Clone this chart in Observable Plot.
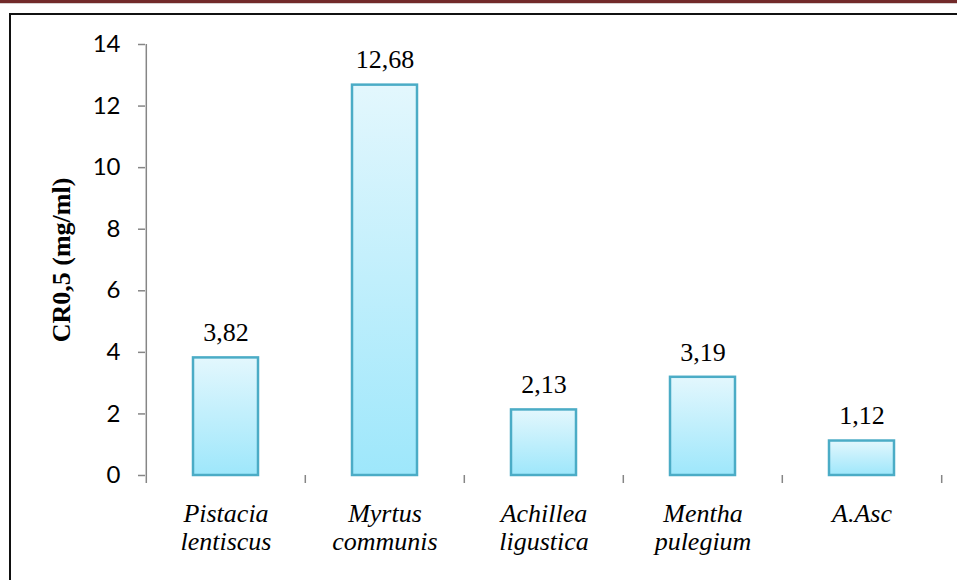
<!DOCTYPE html>
<html>
<head>
<meta charset="utf-8">
<script src="https://cdn.jsdelivr.net/npm/d3@7"></script>
<script src="https://cdn.jsdelivr.net/npm/@observablehq/plot@0.6"></script>
<style>
  html, body { margin: 0; padding: 0; background: #fff; }
  #wrap { position: relative; width: 957px; height: 580px; overflow: hidden; }
  #band { position: absolute; left: 0; top: 0; width: 957px; height: 3px; background: #722a2a; border-bottom: 1px solid #d8d0d0; }
  #box { position: absolute; left: 9px; top: 13px; width: 1000px; height: 700px; border: 2px solid #111; box-sizing: border-box; }
  #chart { position: absolute; left: 0; top: 0; }
</style>
</head>
<body>
<div id="wrap">
  <div id="band"></div>
  <div id="box"></div>
  <div id="chart"></div>
</div>
<script>
const categories = ["Pistacia\nlentiscus", "Myrtus\ncommunis", "Achillea\nligustica", "Mentha\npulegium", "A.Asc"];
const values = [3.82, 12.68, 2.13, 3.19, 1.12];
const yTicks = [0, 2, 4, 6, 8, 10, 12, 14];
const yLabel = "CR0,5 (mg/ml)";

const data = categories.map((c, i) => ({category: c, value: values[i]}));

const W = 957, H = 580;
const mL = 145, mR = 15, mT = 44, mB = 105;
const step = (W - mL - mR) / categories.length;
const serif = "'Liberation Serif', 'Times New Roman', serif";
const axisColor = "#868686";

const plot = Plot.plot({
  width: W,
  height: H,
  marginLeft: mL,
  marginRight: mR,
  marginTop: mT,
  marginBottom: mB,
  style: {background: "transparent", overflow: "visible"},
  x: {domain: categories, paddingInner: 0.59, paddingOuter: 0.295, axis: null},
  y: {domain: [0, 14], axis: null},
  marks: [
    // y axis line
    Plot.ruleX([0], {x: () => categories[0], dx: -step / 2, y1: 0, y2: 14, stroke: axisColor, strokeWidth: 1.5}),
    Plot.axisY({ticks: yTicks, tickSize: 7, tickPadding: 18, stroke: axisColor, strokeWidth: 1.5, color: "#000",
      fontSize: 24, fontFamily: "Lato, 'Open Sans', sans-serif", label: null}),
    // x axis category boundary ticks
    Plot.axisX({ticks: categories, tickSize: 8, tickFormat: () => "", dx: -step / 2, stroke: axisColor, strokeWidth: 1.5, label: null}),
    Plot.axisX({ticks: [categories[categories.length - 1]], tickSize: 8, tickFormat: () => "", dx: step / 2, stroke: axisColor, strokeWidth: 1.5, label: null}),
    Plot.barY(data, {x: "category", y: "value", fill: "url(#barGrad)", stroke: "#4bacc6", strokeWidth: 2.5,
      style: "filter: drop-shadow(2px 2px 2px rgba(0,0,0,0.18))"}),
    Plot.ruleY([0], {stroke: axisColor, strokeWidth: 1.5, x1: () => categories[0], dx: 0}),
    Plot.text(data, {x: "category", y: "value", text: d => d.value.toFixed(2).replace(".", ","), dy: -25,
      fontSize: 26, fontFamily: serif, fill: "#000"}),
    Plot.text(data, {x: "category", text: "category", frameAnchor: "bottom", lineAnchor: "top", dy: 26,
      lineHeight: 1.1, fontSize: 26, fontStyle: "italic", fontFamily: serif, fill: "#000"}),
    Plot.text([yLabel], {text: d => d, frameAnchor: "left", textAnchor: "middle", rotate: -90, dx: -84, fontSize: 26, fontWeight: "bold",
      fontFamily: serif, fill: "#000"})
  ]
});

// vertical gradient for bars
const svg = d3.select(plot);
const defs = svg.insert("defs", ":first-child");
const grad = defs.append("linearGradient").attr("id", "barGrad").attr("x1", 0).attr("y1", 0).attr("x2", 0).attr("y2", 1);
grad.append("stop").attr("offset", "0%").attr("stop-color", "#e3f7fd");
grad.append("stop").attr("offset", "100%").attr("stop-color", "#9ee7fb");

document.getElementById("chart").appendChild(plot);
</script>
</body>
</html>
